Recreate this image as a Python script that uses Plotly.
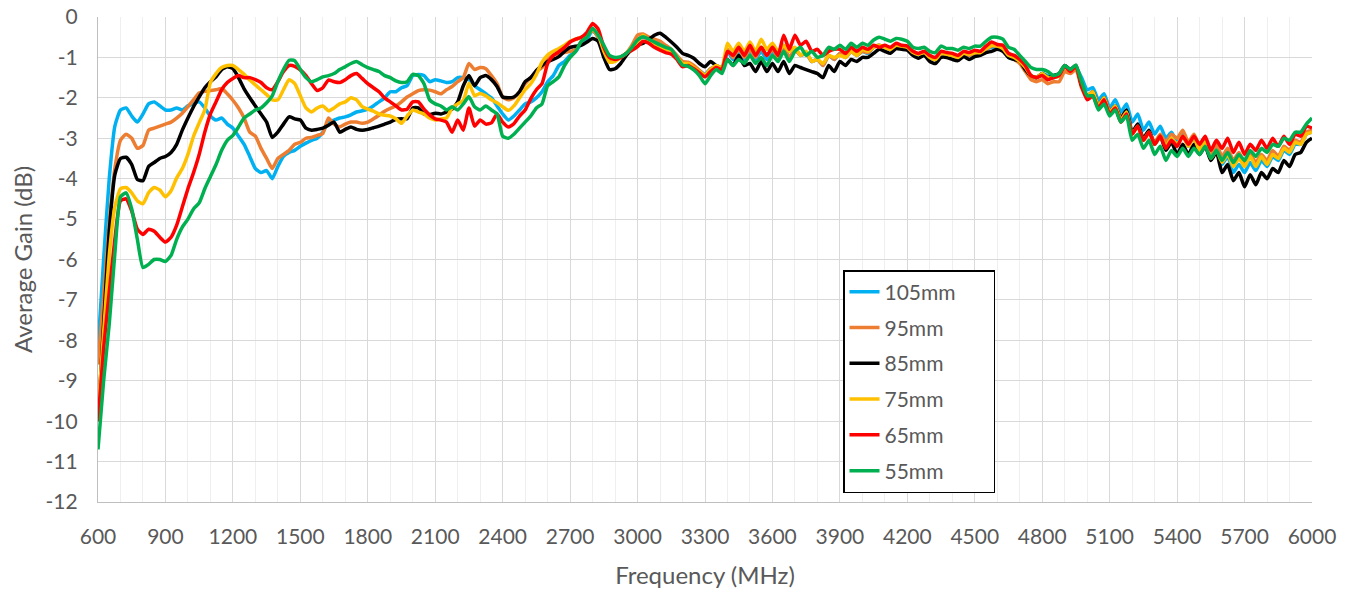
import plotly.graph_objects as go

freq_mhz = list(range(600, 6001, 25))

gain_105mm = [
    -8.2, -6.0, -4.0, -2.7,
    -2.3, -2.25, -2.45, -2.6,
    -2.4, -2.15, -2.1, -2.2,
    -2.3, -2.3, -2.25, -2.3,
    -2.2, -2.15, -2.1, -2.25,
    -2.45, -2.55, -2.5, -2.65,
    -2.75, -2.95, -3.15, -3.45,
    -3.75, -3.85, -3.8, -4.0,
    -3.7, -3.45, -3.35, -3.3,
    -3.2, -3.12, -3.05, -3.0,
    -2.85, -2.6, -2.55, -2.5,
    -2.47, -2.42, -2.35, -2.32,
    -2.28, -2.2, -2.1, -2.0,
    -1.85, -1.85, -1.75, -1.7,
    -1.45, -1.42, -1.45, -1.6,
    -1.55, -1.58, -1.62, -1.6,
    -1.5, -1.5, -1.55, -1.7,
    -1.8, -1.9, -2.0, -2.2,
    -2.4, -2.55, -2.45, -2.3,
    -2.15, -2.1, -2.0, -1.85,
    -1.6, -1.45, -1.2, -1.1,
    -0.95, -0.85, -0.65, -0.55,
    -0.33, -0.5, -0.8, -1.0,
    -1.05, -1.0, -0.9, -0.8,
    -0.55, -0.5, -0.55, -0.58,
    -0.65, -0.72, -0.82, -0.97,
    -1.12, -1.15, -1.22, -1.32,
    -1.42, -1.28, -1.22, -1.28,
    -0.85, -1.05, -0.85, -1.05,
    -0.85, -1.05, -0.85, -1.05,
    -0.9, -1.1, -0.75, -1.05,
    -0.8, -0.95, -0.9, -1.1,
    -1.05, -1.2, -0.95, -1.05,
    -0.9, -1.0, -0.85, -0.95,
    -0.85, -0.9, -0.75, -0.7,
    -0.75, -0.8, -0.7, -0.72,
    -0.75, -0.88, -0.92, -0.88,
    -1.0, -1.05, -0.9, -0.92,
    -0.95, -1.0, -0.9, -0.95,
    -0.9, -0.88, -0.8, -0.75,
    -0.75, -0.8, -1.0, -1.05,
    -1.12, -1.3, -1.45, -1.5,
    -1.4, -1.45, -1.5, -1.45,
    -1.22, -1.35, -1.25, -1.5,
    -1.8, -1.75, -2.05, -1.9,
    -2.25, -2.05, -2.35, -2.15,
    -2.6, -2.4, -2.8, -2.6,
    -2.9, -2.7, -3.0, -2.85,
    -3.1, -2.9, -3.2, -3.0,
    -3.3, -3.1, -3.45, -3.25,
    -3.65, -3.45, -3.85, -3.65,
    -3.85, -3.6, -3.8, -3.55,
    -3.7, -3.45, -3.55, -3.3,
    -3.4, -3.15, -3.15, -2.9,
    -2.85,
]

gain_95mm = [
    -8.6, -6.9, -5.1, -3.75,
    -3.05, -2.9, -3.0, -3.25,
    -3.18, -2.8, -2.75, -2.7,
    -2.65, -2.6, -2.5, -2.38,
    -2.22, -2.05, -1.88, -1.84,
    -1.82, -1.8, -1.77, -1.9,
    -2.06, -2.25, -2.5, -2.85,
    -2.95, -3.25, -3.5, -3.75,
    -3.5, -3.4, -3.3, -3.15,
    -3.1, -3.0, -2.98, -2.93,
    -2.88, -2.5, -2.65, -2.72,
    -2.65, -2.6, -2.6, -2.63,
    -2.6, -2.52, -2.43, -2.33,
    -2.26, -2.2, -2.1, -1.98,
    -1.9, -1.82, -1.8, -1.81,
    -1.85, -1.9, -1.8, -1.72,
    -1.6, -1.5, -1.15, -1.3,
    -1.25, -1.28, -1.45, -1.65,
    -1.98, -2.05, -2.0, -1.85,
    -1.65, -1.5, -1.35, -1.25,
    -1.05, -0.95, -0.9, -0.88,
    -0.85, -0.8, -0.6, -0.45,
    -0.33, -0.5, -0.85, -1.05,
    -1.05, -1.0, -0.9, -0.7,
    -0.45, -0.42, -0.5, -0.55,
    -0.6, -0.7, -0.8, -0.95,
    -1.1, -1.12, -1.2, -1.32,
    -1.44, -1.28, -1.22, -1.28,
    -0.8, -1.0, -0.8, -1.0,
    -0.8, -1.0, -0.75, -0.95,
    -0.8, -1.0, -0.7, -1.0,
    -0.8, -0.95, -0.9, -1.1,
    -1.05, -1.2, -0.95, -1.05,
    -0.9, -1.0, -0.85, -0.95,
    -0.85, -0.88, -0.75, -0.7,
    -0.75, -0.8, -0.7, -0.72,
    -0.75, -0.85, -0.92, -0.88,
    -1.0, -1.05, -0.9, -0.92,
    -0.95, -1.0, -0.9, -0.95,
    -0.9, -0.88, -0.8, -0.72,
    -0.72, -0.8, -0.98, -1.05,
    -1.15, -1.35, -1.55, -1.6,
    -1.55, -1.65, -1.6, -1.6,
    -1.35, -1.4, -1.3, -1.75,
    -2.0, -1.9, -2.25, -2.05,
    -2.4, -2.25, -2.6, -2.4,
    -2.9, -2.7, -3.05, -2.85,
    -3.1, -2.9, -3.1, -2.9,
    -3.0, -2.8, -3.1, -2.9,
    -3.2, -3.0, -3.35, -3.15,
    -3.45, -3.25, -3.55, -3.35,
    -3.6, -3.4, -3.6, -3.4,
    -3.55, -3.3, -3.45, -3.2,
    -3.3, -3.05, -3.1, -2.85,
    -2.8,
]

gain_85mm = [
    -10.0, -7.6, -5.3, -3.9,
    -3.5, -3.47, -3.65, -4.02,
    -4.05, -3.7, -3.6, -3.5,
    -3.45, -3.35, -3.15, -2.8,
    -2.5, -2.22, -1.98, -1.75,
    -1.6, -1.48, -1.3, -1.23,
    -1.28, -1.5, -1.78, -2.0,
    -2.2, -2.4, -2.6, -2.98,
    -2.85, -2.65, -2.47, -2.52,
    -2.55, -2.75, -2.8, -2.78,
    -2.75, -2.68, -2.6, -2.85,
    -2.78, -2.72, -2.78, -2.8,
    -2.78, -2.74, -2.7, -2.65,
    -2.6, -2.53, -2.52, -2.52,
    -2.25, -2.25, -2.4, -2.42,
    -2.38, -2.4, -2.35, -2.28,
    -2.1, -1.7, -1.45, -1.7,
    -1.5, -1.45, -1.55, -1.72,
    -1.98, -2.0, -1.98, -1.85,
    -1.6, -1.5, -1.32, -1.2,
    -1.1, -1.05, -0.98, -0.85,
    -0.75, -0.72, -0.7, -0.62,
    -0.53, -0.6, -1.0, -1.3,
    -1.28, -1.15, -0.95, -0.8,
    -0.69, -0.65, -0.55, -0.45,
    -0.4, -0.5, -0.62, -0.75,
    -0.9, -0.95, -1.02, -1.15,
    -1.23, -1.1, -1.2, -1.25,
    -1.05, -1.2, -0.95, -1.2,
    -1.15, -1.35, -1.1, -1.35,
    -1.15, -1.35, -1.1, -1.4,
    -1.2, -1.25, -1.3, -1.35,
    -1.4, -1.5, -1.2, -1.35,
    -1.1, -1.2, -1.05, -1.1,
    -1.0, -1.0, -0.9, -0.8,
    -0.85, -0.9, -0.78, -0.8,
    -0.82, -0.95, -1.02, -0.95,
    -1.1, -1.15, -1.0, -1.0,
    -1.05, -1.08, -0.98, -1.05,
    -0.98, -0.95, -0.88, -0.85,
    -0.8, -0.85, -1.0, -1.05,
    -1.1, -1.3, -1.45, -1.5,
    -1.4, -1.5, -1.45, -1.4,
    -1.2, -1.3, -1.2, -1.7,
    -1.95, -1.85, -2.2, -2.0,
    -2.35, -2.2, -2.5, -2.3,
    -2.85, -2.65, -3.0, -2.8,
    -3.15, -2.95, -3.3, -3.1,
    -3.4, -3.15, -3.4, -3.15,
    -3.4, -3.2, -3.55, -3.35,
    -3.85, -3.65, -4.05, -3.85,
    -4.2, -3.9, -4.15, -3.85,
    -4.0, -3.75, -3.85, -3.55,
    -3.7, -3.4, -3.35, -3.1,
    -3.0,
]

gain_75mm = [
    -9.8, -7.8, -5.9, -4.7,
    -4.25, -4.22, -4.35, -4.55,
    -4.62, -4.35, -4.22, -4.28,
    -4.45, -4.3, -3.98, -3.75,
    -3.4, -2.95, -2.62, -2.3,
    -1.62, -1.4, -1.25, -1.2,
    -1.2, -1.3, -1.42, -1.56,
    -1.68, -1.8, -1.92, -2.05,
    -2.05, -1.8, -1.55, -1.65,
    -1.95, -2.25, -2.35, -2.25,
    -2.2, -2.32, -2.25, -2.15,
    -2.1, -2.0, -2.05, -2.22,
    -2.28, -2.33, -2.4, -2.43,
    -2.45, -2.52, -2.63, -2.45,
    -2.3, -2.35, -2.4, -2.5,
    -2.55, -2.52, -2.5, -2.25,
    -2.15, -2.06, -1.64, -1.95,
    -1.89, -1.95, -2.05, -2.12,
    -2.22, -2.31, -2.2, -2.0,
    -1.8, -1.65, -1.42, -1.12,
    -0.94, -0.85, -0.78, -0.7,
    -0.6, -0.55, -0.5, -0.45,
    -0.3, -0.45, -0.85, -1.12,
    -1.1, -1.0, -0.9, -0.75,
    -0.61, -0.45, -0.6, -0.7,
    -0.78, -0.8, -0.85, -1.0,
    -1.15, -1.15, -1.25, -1.35,
    -1.44, -1.3, -1.2, -1.25,
    -0.65, -0.85, -0.65, -0.85,
    -0.62, -0.85, -0.55, -0.8,
    -0.65, -0.85, -0.7, -0.85,
    -0.75, -0.95, -0.85, -1.1,
    -1.05, -1.15, -0.95, -1.0,
    -0.95, -1.0, -0.85, -0.95,
    -0.8, -0.85, -0.75, -0.7,
    -0.75, -0.8, -0.7, -0.72,
    -0.75, -0.88, -0.92, -0.88,
    -1.0, -1.05, -0.9, -0.92,
    -0.95, -1.0, -0.9, -0.92,
    -0.88, -0.88, -0.78, -0.7,
    -0.72, -0.78, -0.95, -1.0,
    -1.1, -1.25, -1.45, -1.5,
    -1.4, -1.5, -1.5, -1.45,
    -1.22, -1.35, -1.22, -1.65,
    -1.95, -1.85, -2.2, -2.0,
    -2.35, -2.2, -2.55, -2.35,
    -2.9, -2.7, -3.05, -2.85,
    -3.15, -2.95, -3.2, -3.0,
    -3.15, -2.95, -3.2, -3.0,
    -3.3, -3.1, -3.5, -3.3,
    -3.6, -3.4, -3.7, -3.5,
    -3.7, -3.45, -3.7, -3.45,
    -3.65, -3.4, -3.5, -3.25,
    -3.35, -3.1, -3.15, -2.9,
    -2.85,
]

gain_65mm = [
    -10.0, -8.2, -6.8, -5.5,
    -4.55, -4.5, -4.8, -5.25,
    -5.38, -5.25, -5.3, -5.45,
    -5.57, -5.45, -5.15, -4.7,
    -4.25, -3.85, -3.4, -2.85,
    -2.4, -2.1, -1.8, -1.62,
    -1.52, -1.45, -1.5, -1.5,
    -1.55, -1.62, -1.75, -1.8,
    -1.6, -1.35, -1.2, -1.22,
    -1.31, -1.45, -1.65, -1.82,
    -1.75, -1.56, -1.6, -1.62,
    -1.55, -1.45, -1.4, -1.52,
    -1.65, -1.75, -1.85, -2.0,
    -2.1, -2.2, -2.3, -2.28,
    -2.1, -2.1, -2.28, -2.42,
    -2.52, -2.55, -2.6, -2.85,
    -2.55, -2.8, -2.25, -2.7,
    -2.55, -2.65, -2.62, -2.4,
    -2.6, -2.72, -2.64, -2.45,
    -2.3, -2.02, -1.8, -1.65,
    -1.15, -0.95, -0.86, -0.75,
    -0.62, -0.55, -0.5, -0.38,
    -0.16, -0.3, -0.75, -1.0,
    -1.05, -1.0, -0.9, -0.82,
    -0.73, -0.6, -0.65, -0.75,
    -0.82, -0.88, -0.92, -1.05,
    -1.23, -1.2, -1.28, -1.38,
    -1.48, -1.35, -1.25, -1.3,
    -0.85, -0.95, -0.75, -0.95,
    -0.7, -0.95, -0.75, -0.95,
    -0.75, -0.95, -0.45, -0.8,
    -0.45, -0.7, -0.6, -0.85,
    -0.8, -0.95, -0.85, -0.8,
    -0.8, -0.9, -0.75, -0.85,
    -0.75, -0.8, -0.7, -0.75,
    -0.7, -0.75, -0.65, -0.7,
    -0.72, -0.85, -0.9, -0.85,
    -0.95, -1.0, -0.85, -0.88,
    -0.9, -0.95, -0.85, -0.88,
    -0.82, -0.85, -0.72, -0.62,
    -0.68, -0.7, -0.9, -0.95,
    -1.05, -1.2, -1.45, -1.5,
    -1.45, -1.55, -1.5, -1.45,
    -1.22, -1.35, -1.22, -1.7,
    -2.05, -1.95, -2.25, -2.05,
    -2.4, -2.25, -2.6, -2.4,
    -2.9, -2.7, -3.05, -2.85,
    -3.15, -2.95, -3.25, -3.05,
    -3.2, -2.95, -3.15, -2.95,
    -3.15, -2.95, -3.3, -3.05,
    -3.25, -3.0, -3.35, -3.1,
    -3.4, -3.15, -3.3, -3.05,
    -3.25, -3.0, -3.2, -2.95,
    -3.15, -2.9, -2.95, -2.7,
    -2.75,
]

gain_55mm = [
    -10.7, -9.0, -7.6, -5.85,
    -4.45, -4.35, -4.75, -5.5,
    -6.2, -6.12, -6.0, -6.0,
    -6.05, -5.9, -5.5, -5.2,
    -5.0, -4.75, -4.6, -4.25,
    -3.95, -3.65, -3.3, -3.05,
    -2.93, -2.72, -2.5, -2.4,
    -2.3, -2.25, -2.12, -1.95,
    -1.6, -1.3, -1.07, -1.08,
    -1.3, -1.5, -1.6, -1.55,
    -1.48, -1.45, -1.4, -1.3,
    -1.23, -1.15, -1.1, -1.18,
    -1.25, -1.3, -1.35, -1.45,
    -1.5, -1.58, -1.62, -1.6,
    -1.42, -1.45, -1.65, -2.05,
    -2.15, -2.2, -2.3, -2.22,
    -2.3, -2.15, -1.97, -2.22,
    -2.3, -2.2, -2.3, -2.4,
    -2.95, -3.0, -2.9, -2.75,
    -2.6, -2.45, -2.25, -2.15,
    -1.7, -1.6, -1.48, -1.2,
    -1.0, -0.85, -0.6, -0.5,
    -0.28, -0.45, -0.7, -0.95,
    -1.0, -0.98, -0.9, -0.75,
    -0.57, -0.49, -0.55, -0.62,
    -0.69, -0.75, -0.8, -1.0,
    -1.19, -1.22, -1.31, -1.45,
    -1.65, -1.45, -1.3, -1.4,
    -1.05, -1.2, -1.05, -1.15,
    -0.95, -1.15, -1.0, -1.2,
    -0.95, -1.1, -0.85, -1.1,
    -0.85, -0.75, -0.95, -0.85,
    -1.0, -0.95, -0.75, -0.8,
    -0.7, -0.8, -0.65, -0.75,
    -0.65, -0.7, -0.57, -0.5,
    -0.55, -0.6, -0.53, -0.55,
    -0.6, -0.75, -0.78, -0.75,
    -0.85, -0.88, -0.72, -0.78,
    -0.78, -0.82, -0.75, -0.78,
    -0.72, -0.72, -0.6, -0.5,
    -0.5, -0.55, -0.75, -0.8,
    -0.95, -1.1, -1.25, -1.3,
    -1.3, -1.35, -1.45, -1.4,
    -1.2, -1.3, -1.19, -1.6,
    -1.95, -1.95, -2.3, -2.15,
    -2.45, -2.3, -2.6, -2.45,
    -3.05, -2.9, -3.25, -3.05,
    -3.4, -3.2, -3.55, -3.3,
    -3.45, -3.25, -3.45, -3.25,
    -3.4, -3.2, -3.5, -3.3,
    -3.55, -3.35, -3.6, -3.4,
    -3.55, -3.3, -3.45, -3.25,
    -3.35, -3.15, -3.2, -3.0,
    -3.05, -2.85, -2.85, -2.65,
    -2.5,
]

series_names = ["105mm", "95mm", "85mm", "75mm", "65mm", "55mm"]
series_values = [gain_105mm, gain_95mm, gain_85mm, gain_75mm, gain_65mm, gain_55mm]
series_colors = ["#00B0F0", "#ED7D31", "#000000", "#FFC000", "#FF0000", "#00B050"]

x_tick_vals = list(range(600, 6001, 300))
y_tick_vals = list(range(0, -13, -1))
y_tick_text = [str(v) for v in y_tick_vals]

for vals in series_values:
    assert len(vals) == len(freq_mhz), len(vals)

font_family = "Lato, 'Open Sans', sans-serif"
text_color = "#595959"

fig = go.Figure()
for name, vals, color in zip(series_names, series_values, series_colors):
    fig.add_trace(go.Scatter(
        x=freq_mhz, y=vals, mode="lines",
        name=name + "\u00a0" * 6,
        legendgroup=name,
        line=dict(color=color, width=3.5, shape="spline", smoothing=0.5),
    ))

fig.update_layout(
    width=1352, height=594,
    margin=dict(l=98, r=40, t=17, b=92, autoexpand=False),
    paper_bgcolor="white", plot_bgcolor="white",
    font=dict(family=font_family, size=21, color=text_color),
    showlegend=True,
    legend=dict(
        x=(843 - 98) / 1214, y=(502 - 270) / 485,
        xanchor="left", yanchor="top",
        bgcolor="white", bordercolor="#000000", borderwidth=1.5,
        font=dict(family=font_family, size=21, color=text_color),
        tracegroupgap=5.5,
    ),
    xaxis=dict(
        range=[600, 6000], tickvals=x_tick_vals,
        showgrid=True, gridcolor="#d9d9d9", gridwidth=1.3,
        minor=dict(dtick=100, tick0=600, showgrid=True, gridcolor="#efefef", gridwidth=1),
        showline=True, linecolor="#bfbfbf", linewidth=1.3,
        ticks="", ticklabelstandoff=16, ticklabeloverflow="allow",
        zeroline=False,
        tickfont=dict(size=21),
        title=dict(text="Frequency (MHz)", font=dict(size=24, color=text_color), standoff=19),
    ),
    yaxis=dict(
        range=[-12, 0], tickvals=y_tick_vals, ticktext=y_tick_text,
        showgrid=True, gridcolor="#d9d9d9", gridwidth=1.3,
        showline=True, linecolor="#bfbfbf", linewidth=1.3,
        ticks="", ticklabelstandoff=15, ticklabeloverflow="allow",
        zeroline=False,
        tickfont=dict(size=21),
        title=dict(text="Average Gain (dB)", font=dict(size=24, color=text_color), standoff=6),
    ),
)

fig.write_html(
    "out.html",
    config={"displayModeBar": False},
    post_script="document.body.style.margin='0';document.body.style.overflow='hidden';",
)
